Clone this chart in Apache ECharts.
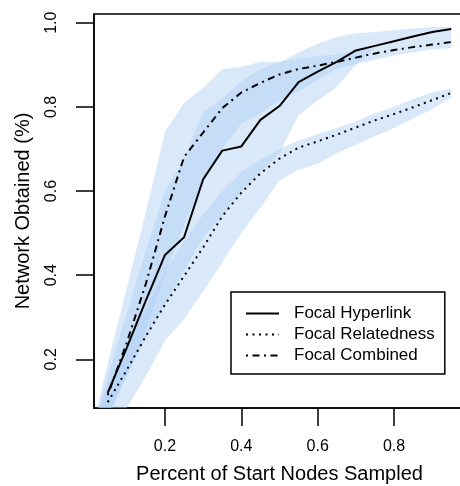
<!DOCTYPE html>
<html>
<head>
<meta charset="utf-8">
<script src="https://cdn.jsdelivr.net/npm/echarts@6/dist/echarts.min.js"></script>
<style>
  html, body { margin: 0; padding: 0; background: #fff; }
  #chart { width: 460px; height: 486px; }
</style>
</head>
<body>
<div id="chart"></div>
<script>
// ---- data ----
var xs = [0.05,0.10,0.15,0.20,0.25,0.30,0.35,0.40,0.45,0.50,0.55,0.60,0.65,0.70,0.75,0.80,0.85,0.90,0.95];
var hyperlink   = [0.12,0.228,0.34,0.448,0.49,0.628,0.696,0.706,0.769,0.802,0.859,0.884,0.907,0.934,0.945,0.956,0.967,0.978,0.985];
var relatedness = [0.098,0.175,0.255,0.33,0.398,0.466,0.54,0.596,0.642,0.677,0.703,0.718,0.734,0.751,0.768,0.783,0.799,0.816,0.833];
var combined    = [0.115,0.24,0.38,0.54,0.681,0.739,0.797,0.834,0.857,0.877,0.89,0.898,0.907,0.917,0.927,0.935,0.942,0.948,0.954];

// bands (x includes the origin)
var bandX = [0,0.05,0.10,0.15,0.20,0.25,0.30,0.35,0.40,0.45,0.50,0.55,0.60,0.65,0.70,0.75,0.80,0.85,0.90,0.95];
var hyperLow  = [0,0.07,0.16,0.25,0.33,0.41,0.49,0.54,0.60,0.645,0.69,0.78,0.815,0.847,0.90,0.94,0.952,0.962,0.97,0.975];
var hyperHigh = [0,0.16,0.31,0.46,0.60,0.675,0.788,0.82,0.86,0.89,0.905,0.93,0.95,0.966,0.975,0.978,0.982,0.986,0.99,0.99];
var combLow   = [0,0.06,0.16,0.27,0.40,0.52,0.62,0.70,0.76,0.785,0.815,0.836,0.865,0.89,0.902,0.912,0.922,0.93,0.936,0.94];
var combHigh  = [0,0.19,0.37,0.55,0.74,0.81,0.845,0.89,0.895,0.907,0.907,0.915,0.92,0.925,0.932,0.94,0.952,0.962,0.97,0.975];
var relLow    = [0,0.04,0.085,0.16,0.245,0.295,0.362,0.43,0.50,0.56,0.625,0.65,0.665,0.69,0.71,0.73,0.75,0.772,0.795,0.822];
var relHigh   = [0,0.14,0.23,0.32,0.41,0.48,0.545,0.60,0.645,0.675,0.70,0.72,0.735,0.75,0.765,0.785,0.80,0.818,0.835,0.843];

var xTicks = [0.2,0.4,0.6,0.8];
var yTicks = [0.2,0.4,0.6,0.8,1.0];
var seriesNames = ['Focal Hyperlink','Focal Relatedness','Focal Combined'];

// ---- chart ----
var FONT = '"Liberation Sans", Arial, Helvetica, sans-serif';
var BAND = 'rgba(173,206,243,0.45)';

function pairs(xv, yv) { return xv.map(function (x, i) { return [x, yv[i]]; }); }

// one polygon per band, built through the axes' scales (api.coord)
function bandSeries(id, low, high) {
  var data = bandX.map(function (x, i) { return [x, low[i], high[i]]; });
  return {
    type: 'custom', name: id, silent: true, z: 1,
    data: data,
    encode: { x: 0, y: [1, 2] },
    renderItem: function (params, api) {
      if (params.dataIndex !== 0) return null;
      var pts = [];
      var i;
      for (i = 0; i < data.length; i++) pts.push(api.coord([data[i][0], data[i][2]]));
      for (i = data.length - 1; i >= 0; i--) pts.push(api.coord([data[i][0], data[i][1]]));
      var cs = params.coordSys;
      return {
        type: 'polygon',
        shape: { points: pts },
        style: { fill: BAND, stroke: null },
        clipPath: { type: 'rect', shape: { x: cs.x, y: cs.y, width: cs.width, height: cs.height } }
      };
    }
  };
}

var chart = echarts.init(document.getElementById('chart'), null, { renderer: 'canvas' });
var option = {
  animation: false,
  backgroundColor: '#fff',
  textStyle: { fontFamily: FONT, color: '#000' },
  grid: {
    left: 94, top: 14, right: -5, bottom: 78,
    show: true, borderColor: '#000', borderWidth: 1.5, backgroundColor: 'transparent',
    containLabel: false, outerBoundsMode: 'none'
  },
  xAxis: {
    type: 'value', min: 0.014, max: 0.986,
    name: 'Percent of Start Nodes Sampled', nameLocation: 'middle', nameGap: 56,
    nameTextStyle: { fontSize: 20, color: '#000', fontFamily: FONT },
    axisLine: { show: true, lineStyle: { color: '#000', width: 1.5 } },
    axisTick: { show: true, length: 18, lineStyle: { color: '#000', width: 1.5 }, customValues: xTicks },
    axisLabel: { customValues: xTicks, fontSize: 16, color: '#000', margin: 31, fontFamily: FONT,
      formatter: function (v) { return v.toFixed(1); } },
    splitLine: { show: false }
  },
  yAxis: {
    type: 'value', min: 0.0843, max: 1.0207,
    name: 'Network Obtained (%)', nameLocation: 'middle', nameGap: 61,
    nameTextStyle: { fontSize: 20, color: '#000', fontFamily: FONT },
    axisLine: { show: true, lineStyle: { color: '#000', width: 1.5 } },
    axisTick: { show: true, length: 18, lineStyle: { color: '#000', width: 1.5 }, customValues: yTicks },
    axisLabel: { customValues: yTicks, rotate: 90, fontSize: 16, color: '#000', margin: 34, fontFamily: FONT,
      formatter: function (v) { return v.toFixed(1); } },
    splitLine: { show: false }
  },
  legend: {
    data: seriesNames,
    orient: 'vertical', left: 231, top: 292,
    backgroundColor: '#fff', borderColor: '#000', borderWidth: 1.5, borderRadius: 0,
    padding: [13, 10, 10, 14],
    itemWidth: 33, itemHeight: 14, itemGap: 4,
    selectedMode: false,
    itemStyle: { opacity: 0 },
    textStyle: { fontSize: 17, color: '#000', fontFamily: FONT, padding: [0, 0, 0, 10], lineHeight: 17 }
  },
  series: [
    bandSeries('bandH', hyperLow, hyperHigh),
    bandSeries('bandC', combLow, combHigh),
    bandSeries('bandR', relLow, relHigh),
    { type: 'line', name: seriesNames[0], data: pairs(xs, hyperlink), symbol: 'none', z: 5,
      lineStyle: { color: '#000', width: 2, type: 'solid' }, itemStyle: { color: '#000' } },
    { type: 'line', name: seriesNames[1], data: pairs(xs, relatedness), symbol: 'none', z: 5,
      lineStyle: { color: '#000', width: 2, type: [2, 4.5] }, itemStyle: { color: '#000' } },
    { type: 'line', name: seriesNames[2], data: pairs(xs, combined), symbol: 'none', z: 5,
      lineStyle: { color: '#000', width: 2, type: [2, 4.5, 7, 4.5] }, itemStyle: { color: '#000' } }
  ]
};
chart.setOption(option);
</script>
</body>
</html>
